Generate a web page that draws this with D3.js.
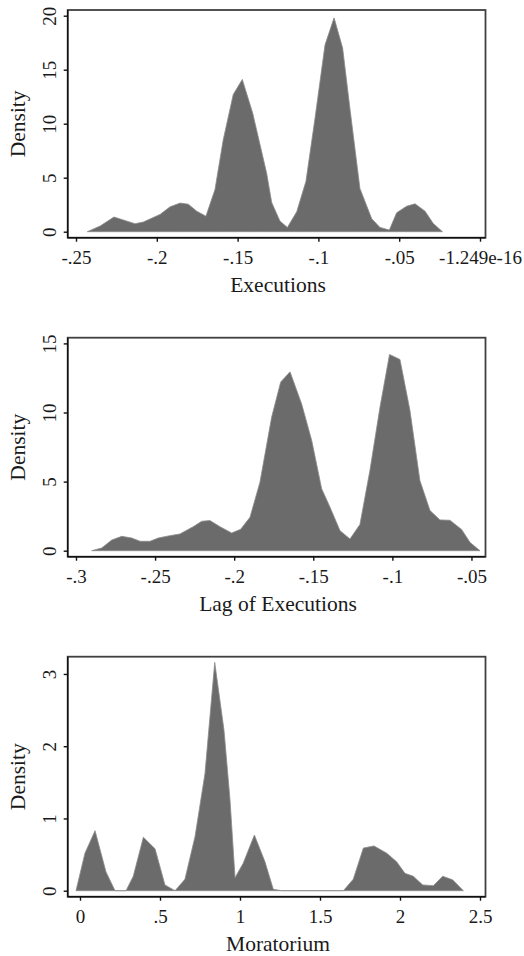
<!DOCTYPE html>
<html>
<head>
<meta charset="utf-8">
<script src="https://cdn.jsdelivr.net/npm/d3@7"></script>
<style>
  body { margin: 0; background: #fff; }
  svg text { font-family: "Liberation Serif", "Times New Roman", serif; fill: #1a1a1a; }
</style>
</head>
<body>
<div id="chart"></div>
<script>
// kernel density estimates
let exec_x = [-0.243, -0.2351, -0.2265, -0.2135, -0.2084, -0.198, -0.1918, -0.1856, -0.1805, -0.1753, -0.1696, -0.164, -0.1589, -0.1527, -0.1471, -0.1407, -0.132, -0.1289, -0.1238, -0.1192, -0.1134, -0.1077, -0.1021, -0.0959, -0.0903, -0.085, -0.0804, -0.0743, -0.067, -0.0619, -0.0561, -0.0516, -0.0454, -0.0402, -0.034, -0.0289, -0.0232];
let exec_y = [0, 0.52, 1.36, 0.74, 0.89, 1.6, 2.3, 2.65, 2.55, 1.9, 1.44, 3.9, 8.5, 12.7, 14.1, 11.0, 5.4, 2.7, 0.98, 0.4, 1.85, 4.67, 10.5, 17.3, 19.8, 17.0, 11.3, 4.0, 1.2, 0.4, 0.15, 1.75, 2.36, 2.58, 1.9, 0.75, 0];

let lag_x = [-0.2901, -0.2838, -0.2774, -0.2711, -0.2648, -0.2595, -0.2532, -0.248, -0.2406, -0.2343, -0.2259, -0.2205, -0.2153, -0.209, -0.2016, -0.1959, -0.19, -0.1837, -0.1763, -0.1706, -0.1647, -0.1573, -0.151, -0.1447, -0.1394, -0.1331, -0.1268, -0.1205, -0.1142, -0.1078, -0.1018, -0.0952, -0.0889, -0.0826, -0.0762, -0.0699, -0.0636, -0.0562, -0.0509, -0.0446];
let lag_y = [0, 0.19, 0.77, 1.04, 0.92, 0.68, 0.68, 0.92, 1.09, 1.21, 1.74, 2.13, 2.18, 1.74, 1.28, 1.55, 2.42, 4.96, 9.67, 12.2, 12.94, 10.6, 7.98, 4.48, 3.14, 1.45, 0.85, 1.9, 5.8, 10.4, 14.2, 13.84, 10.16, 5.08, 2.9, 2.23, 2.2, 1.53, 0.6, 0];

let mor_x = [-0.025, 0.031, 0.094, 0.1625, 0.219, 0.2875, 0.333, 0.396, 0.469, 0.531, 0.594, 0.656, 0.719, 0.781, 0.842, 0.9, 0.9375, 0.969, 1.02, 1.09, 1.156, 1.208, 1.26, 1.646, 1.708, 1.771, 1.8375, 1.917, 1.979, 2.031, 2.083, 2.142, 2.208, 2.267, 2.329, 2.396];
let mor_y = [0, 0.52, 0.83, 0.26, 0, 0, 0.2, 0.74, 0.58, 0.08, 0, 0.16, 0.75, 1.62, 3.16, 2.22, 1.26, 0.18, 0.38, 0.77, 0.4, 0.02, 0, 0, 0.16, 0.59, 0.62, 0.52, 0.4, 0.24, 0.2, 0.08, 0.07, 0.2, 0.15, 0];

// ticks and their labels
let exec_xticks = [-0.25, -0.2, -0.15, -0.1, -0.05, 0];
let exec_xlabels = ["-.25", "-.2", "-.15", "-.1", "-.05", "-1.249e-16"];
let exec_yticks = [0, 5, 10, 15, 20];

let lag_xticks = [-0.3, -0.25, -0.2, -0.15, -0.1, -0.05];
let lag_xlabels = ["-.3", "-.25", "-.2", "-.15", "-.1", "-.05"];
let lag_yticks = [0, 5, 10, 15];

let mor_xticks = [0, 0.5, 1, 1.5, 2, 2.5];
let mor_xlabels = ["0", ".5", "1", "1.5", "2", "2.5"];
let mor_yticks = [0, 1, 2, 3];

let titles = ["Executions", "Lag of Executions", "Moratorium"];

let width = 524, height = 956;
let box_left = 67.7, box_right = 485.5;
let x_range = [76, 480];
let inset_top = 5.7, inset_bottom = 6;
let tick_font = 19, title_font = 21.5;

let panels = [
    {xs: exec_x, ys: exec_y, xticks: exec_xticks, xlabels: exec_xlabels, yticks: exec_yticks, title: titles[0], top: 10, h: 227.7},
    {xs: lag_x, ys: lag_y, xticks: lag_xticks, xlabels: lag_xlabels, yticks: lag_yticks, title: titles[1], top: 337.7, h: 219},
    {xs: mor_x, ys: mor_y, xticks: mor_xticks, xlabels: mor_xlabels, yticks: mor_yticks, title: titles[2], top: 656.7, h: 240}
];

let svg = d3.select("#chart").append("svg")
    .attr("width", width)
    .attr("height", height);

panels.forEach((p) => {
    let bottom = p.top + p.h;
    let pts = p.xs.map((x, i) => ({x: x, y: p.ys[i]}));

    let xScale = d3.scaleLinear()
        .domain(d3.extent(p.xs.concat(p.xticks)))
        .range(x_range);
    let yScale = d3.scaleLinear()
        .domain([0, Math.max(d3.max(p.ys), d3.max(p.yticks))])
        .range([bottom - inset_bottom, p.top + inset_top]);

    let g = svg.append("g");

    // outer frame (top/right)
    g.append("rect")
        .attr("x", box_left).attr("y", p.top)
        .attr("width", box_right - box_left).attr("height", p.h)
        .attr("fill", "none")
        .attr("stroke", "#404040")
        .attr("stroke-width", 1.8);

    let area = d3.area()
        .x(d => xScale(d.x))
        .y0(yScale(0))
        .y1(d => yScale(d.y));

    g.append("path")
        .datum(pts)
        .attr("d", area)
        .attr("fill", "#6b6b6b")
        .attr("stroke", "#8a8a8a")
        .attr("stroke-width", 0.8);

    // x axis
    let xAxis = d3.axisBottom(xScale)
        .tickValues(p.xticks)
        .tickFormat((d, i) => p.xlabels[i])
        .tickSize(4)
        .tickSizeOuter(0);
    let gx = g.append("g")
        .attr("transform", "translate(0," + bottom + ")")
        .call(xAxis);
    gx.select(".domain").attr("d", "M" + box_left + ",0H" + box_right);
    gx.selectAll("line, path").attr("stroke", "#111").attr("stroke-width", 1.4);
    gx.selectAll("text")
        .attr("font-size", tick_font)
        .attr("dy", null)
        .attr("y", 26.5);

    // y axis, rotated labels
    let yAxis = d3.axisLeft(yScale)
        .tickValues(p.yticks)
        .tickFormat(d3.format("d"))
        .tickSize(4)
        .tickSizeOuter(0);
    let gy = g.append("g")
        .attr("transform", "translate(" + box_left + ",0)")
        .call(yAxis);
    gy.select(".domain").attr("d", "M0," + p.top + "V" + bottom);
    gy.selectAll("line, path").attr("stroke", "#111").attr("stroke-width", 1.4);
    gy.selectAll(".tick text")
        .attr("font-size", tick_font)
        .attr("x", null).attr("dy", null)
        .attr("text-anchor", "middle")
        .attr("transform", "translate(-12,0) rotate(-90)");

    g.append("text")
        .attr("transform", "translate(25," + (p.top + p.h / 2) + ") rotate(-90)")
        .attr("text-anchor", "middle")
        .attr("font-size", title_font)
        .text("Density");

    g.append("text")
        .attr("x", (x_range[0] + x_range[1]) / 2)
        .attr("y", bottom + 54)
        .attr("text-anchor", "middle")
        .attr("font-size", title_font)
        .text(p.title);
});
</script>
</body>
</html>
